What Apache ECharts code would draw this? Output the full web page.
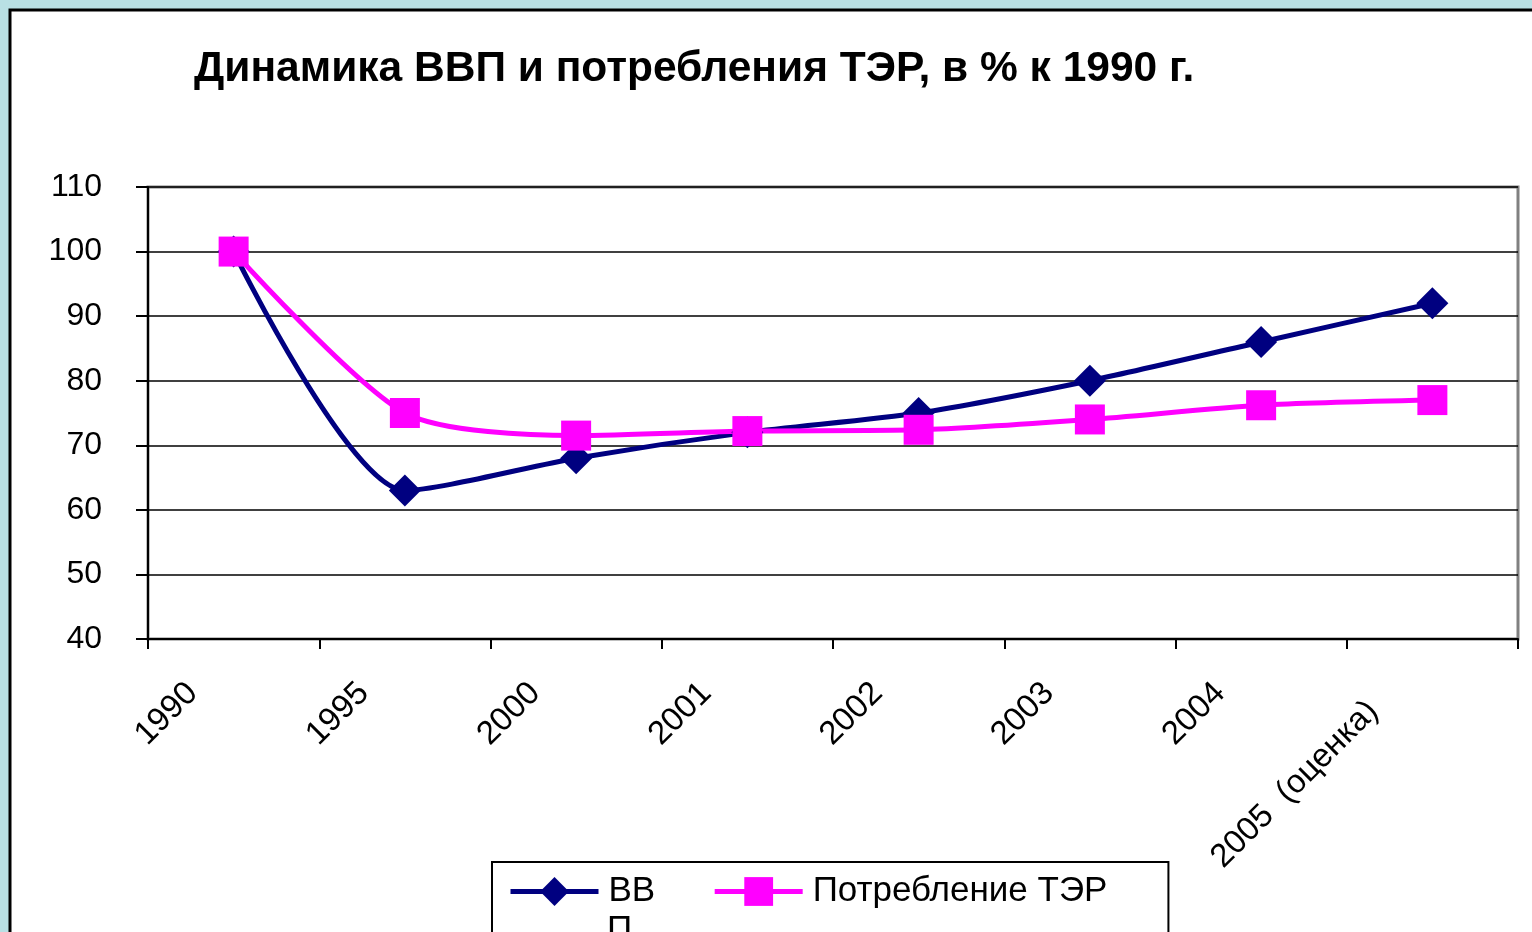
<!DOCTYPE html>
<html>
<head>
<meta charset="utf-8">
<script src="https://cdn.jsdelivr.net/npm/echarts@6/dist/echarts.min.js"></script>
<style>
html,body{margin:0;padding:0;background:#b9e0e4;}
#chart{width:1532px;height:932px;}
</style>
</head>
<body>
<div id="chart"></div>
<script>
const categories = ['1990', '1995', '2000', '2001', '2002', '2003', '2004', '2005  (оценка)'];
const gdpValues = [100, 63, 68, 72, 75, 80, 86, 92];
const terValues = [100, 75, 71.5, 72.2, 72.4, 74, 76.2, 77];
const seriesNames = ['ВВП', 'Потребление ТЭР'];
const titleText = 'Динамика ВВП и потребления ТЭР, в % к 1990 г.';

const chart = echarts.init(document.getElementById('chart'), null, {renderer: 'canvas'});
const font = 'Liberation Sans, Arial, sans-serif';
chart.setOption({
  backgroundColor: '#b9e0e4',
  animation: false,
  graphic: [
    {type: 'rect', z: -10, shape: {x: 10, y: 10, width: 1540, height: 940},
     style: {fill: '#ffffff', stroke: '#000000', lineWidth: 3}},
    {type: 'text', z: 100, left: 607, top: 913,
     style: {text: 'П', fontFamily: font, fontSize: 35, fill: '#000'}}
  ],
  title: {
    text: titleText, left: 189, top: 43,
    textStyle: {fontFamily: font, fontSize: 42.5, fontWeight: 'bold', color: '#000'}
  },
  grid: {left: 148, right: 14, top: 187, bottom: 293, show: true, borderColor: '#808080', borderWidth: 3, backgroundColor: 'transparent'},
  legend: {
    left: 492, top: 862,
    data: seriesNames,
    formatter: function (n) { return n === 'ВВП' ? 'ВВ' : n; },
    backgroundColor: '#fff', borderColor: '#000', borderWidth: 2,
    padding: [12, 61, 40, 16],
    itemWidth: 88, itemHeight: 36, itemGap: 57,
    lineStyle: {width: 5},
    textStyle: {fontFamily: font, fontSize: 35, color: '#000', padding: [0, 0, 0, 5]}
  },
  xAxis: {
    type: 'category', data: categories, boundaryGap: true,
    axisLine: {lineStyle: {color: '#000', width: 2}},
    axisTick: {show: true, length: 10, lineStyle: {color: '#000', width: 2}},
    axisLabel: {
      rotate: 45, fontFamily: font, fontSize: 33, color: '#000', margin: 8, interval: 0,
      padding: [0, 58, 0, 0],
      formatter: function (v, i) { return i === categories.length - 1 ? '{p|' + v + '}' : v; },
      rich: {p: {fontFamily: font, fontSize: 33, color: '#000', padding: [0, 26, 0, 0]}}
    }
  },
  yAxis: {
    type: 'value', min: 40, max: 110, interval: 10,
    axisLine: {show: true, lineStyle: {color: '#000', width: 2}},
    axisTick: {show: true, length: 12, lineStyle: {color: '#000', width: 2}},
    axisLabel: {fontFamily: font, fontSize: 32, color: '#000', margin: 46},
    splitLine: {lineStyle: {color: '#000', width: 1.5}}
  },
  series: [
    {
      name: seriesNames[0], type: 'line', data: gdpValues, smooth: 0.25,
      symbol: 'diamond', symbolSize: 32,
      lineStyle: {color: '#000080', width: 5},
      itemStyle: {color: '#000080'}
    },
    {
      name: seriesNames[1], type: 'line', data: terValues, smooth: 0.25,
      symbol: 'rect', symbolSize: 30,
      lineStyle: {color: '#ff00ff', width: 5},
      itemStyle: {color: '#ff00ff'}
    }
  ]
});
</script>
</body>
</html>
